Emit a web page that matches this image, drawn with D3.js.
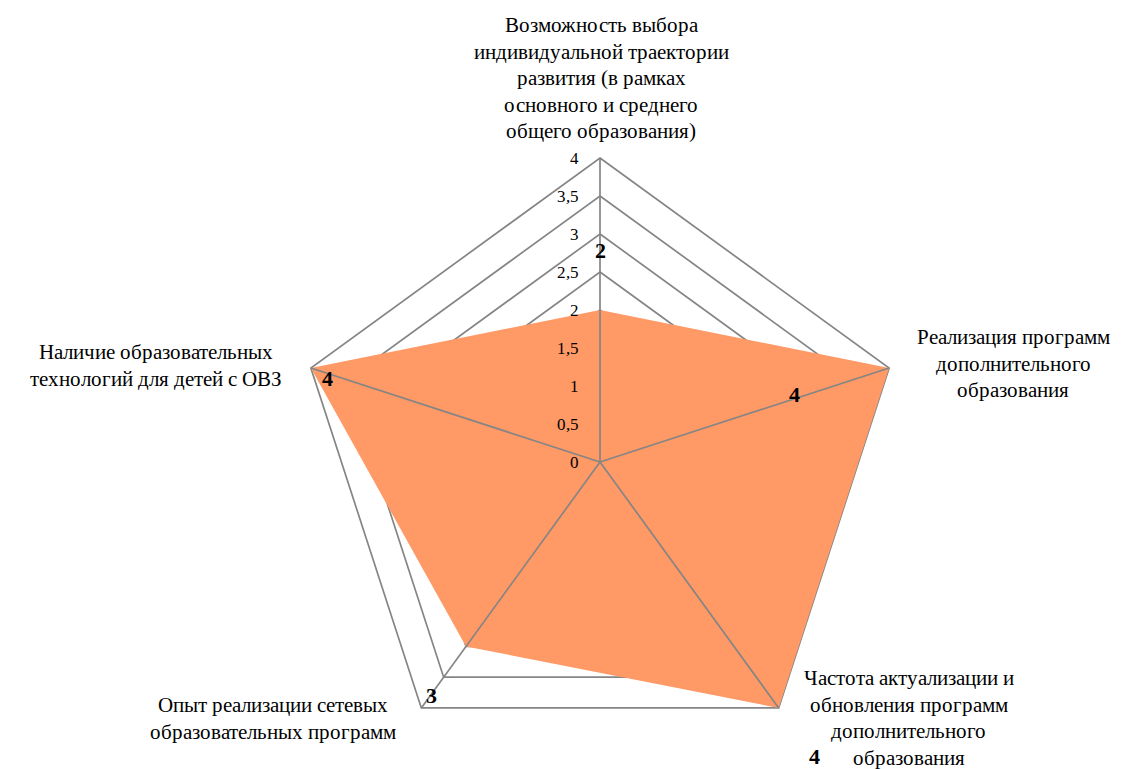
<!DOCTYPE html>
<html>
<head>
<meta charset="utf-8">
<script src="https://cdn.jsdelivr.net/npm/d3@7"></script>
<style>
  @font-face { font-family: "ChartSerif"; src: local("Liberation Serif"), local("LiberationSerif"), local("Times New Roman"); font-weight: normal; }
  @font-face { font-family: "ChartSerif"; src: local("Liberation Serif Bold"), local("LiberationSerif-Bold"), local("Times New Roman Bold"); font-weight: bold; }
  body { margin: 0; background: #fff; }
  #chart text { font-family: ChartSerif, "Liberation Serif", serif; }
</style>
</head>
<body>
<div id="chart"></div>
<script>
const categories = [
  ["Возможность выбора", "индивидуальной траектории", "развития (в рамках", "основного и среднего", "общего образования)"],
  ["Реализация программ", "дополнительного", "образования"],
  ["Частота актуализации и", "обновления программ", "дополнительного", "образования"],
  ["Опыт реализации сетевых", "образовательных программ"],
  ["Наличие образовательных", "технологий для детей с ОВЗ"]
];
const values = [2, 4, 4, 3, 4];
const ticks = [0, 0.5, 1, 1.5, 2, 2.5, 3, 3.5, 4];

const width = 1128, height = 769;
const cx = 600, cy = 462;

const svg = d3.select("#chart").append("svg")
  .attr("width", width)
  .attr("height", height);

const r = d3.scaleLinear().domain([0, 4]).range([0, 304]);
const angle = d3.scaleLinear().domain([0, categories.length]).range([0, 2 * Math.PI]);

const px = (i, v) => cx + r(v) * Math.sin(angle(i));
const py = (i, v) => cy - r(v) * Math.cos(angle(i));

const idx = d3.range(categories.length);
const gridColor = "#858585";

// rings (behind the area)
svg.selectAll(".ring").data(ticks.filter(t => t > 0)).join("polygon")
  .attr("class", "ring")
  .attr("points", t => idx.map(i => [px(i, t), py(i, t)].join(",")).join(" "))
  .attr("fill", "none")
  .attr("stroke", gridColor)
  .attr("stroke-width", 1.7);

// filled series
svg.append("polygon")
  .attr("points", idx.map(i => [px(i, values[i]), py(i, values[i])].join(",")).join(" "))
  .attr("fill", "#FF9966");

// spokes on top
svg.selectAll(".spoke").data(idx).join("line")
  .attr("class", "spoke")
  .attr("x1", cx).attr("y1", cy)
  .attr("x2", i => px(i, 4)).attr("y2", i => py(i, 4))
  .attr("stroke", gridColor)
  .attr("stroke-width", 1.7);

// tick labels
svg.selectAll(".tick").data(ticks).join("text")
  .attr("class", "tick")
  .attr("x", cx - 21)
  .attr("y", t => cy - r(t))
  .attr("dy", "0.35em")
  .attr("text-anchor", "end")
  .attr("font-size", 17)
  .text(t => String(t).replace(".", ","));

// category labels: first line placed relative to the outer vertex
const catPos = [
  { dx: 1, dy: -133 },
  { dx: 124, dy: -31 },
  { dx: 130, dy: -30 },
  { dx: -148, dy: -3 },
  { dx: -155, dy: -16 }
];
const lh = 26.5;
categories.forEach((lines, i) => {
  const p = catPos[i];
  const x0 = px(i, 4) + p.dx;
  const y0 = py(i, 4) + p.dy;
  const t = svg.append("text")
    .attr("text-anchor", "middle")
    .attr("font-size", 21);
  lines.forEach((line, k) => {
    t.append("tspan")
      .attr("x", x0)
      .attr("y", y0 + k * lh)
      .attr("dy", "0.35em")
      .text(line);
  });
});

// data labels
const lblOff = [[0, -60], [-95, 26], [36, 48], [-34, 49], [17, 10]];
svg.selectAll(".dlabel").data(idx).join("text")
  .attr("class", "dlabel")
  .attr("x", i => px(i, values[i]) + lblOff[i][0])
  .attr("y", i => py(i, values[i]) + lblOff[i][1])
  .attr("dy", "0.35em")
  .attr("text-anchor", "middle")
  .attr("font-size", 22)
  .attr("font-weight", "bold")
  .text(i => values[i]);
</script>
</body>
</html>
